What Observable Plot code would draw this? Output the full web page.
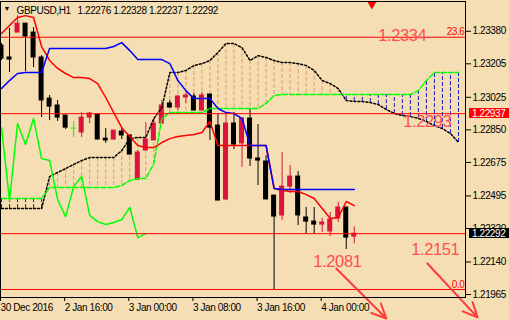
<!DOCTYPE html>
<html><head><meta charset="utf-8">
<script src="https://cdn.jsdelivr.net/npm/d3@7"></script>
<script src="https://cdn.jsdelivr.net/npm/@observablehq/plot@0.6"></script>
<style>
html,body{margin:0;padding:0;background:#f5deb3;overflow:hidden;}
#chart svg{display:block;}
</style></head><body><div id="chart"></div>
<script>
// ---- data ----
const symbol = "GBPUSD";
const timeframe = "H1";
const timeTickBars = [0, 8, 16, 24, 32, 40];
const timeLabels = ["30 Dec 2016", "2 Jan 16:00", "3 Jan 00:00", "3 Jan 08:00", "3 Jan 16:00", "4 Jan 00:00"];
const priceTicks = [1.23380, 1.23205, 1.23025, 1.22850, 1.22675, 1.22495, 1.22320, 1.22140, 1.21965];

const open = [1.23303, 1.23239, 1.23373, 1.23421, 1.23373, 1.23239, 1.23018, 1.22981, 1.22927, 1.22857,
  1.22836, 1.22916, 1.22932, 1.22803, 1.22798, 1.22841, 1.22820, 1.22583, 1.22739, 1.22793,
  1.22884, 1.22992, 1.22970, 1.23024, 1.23029, 1.22954, 1.23040, 1.22873, 1.22476, 1.22884,
  1.22777, 1.22911, 1.22696, 1.22680, 1.22497, 1.22390, 1.22545, 1.22599, 1.22379, 1.22357,
  1.22341, 1.22304, 1.22374, 1.22433, 1.22276];
const high = [1.23314, 1.23395, 1.23464, 1.23421, 1.23400, 1.23249, 1.23035, 1.23008, 1.22927, 1.22895,
  1.22943, 1.22943, 1.22932, 1.22857, 1.22846, 1.22857, 1.22820, 1.22739, 1.22889, 1.22911,
  1.23008, 1.23008, 1.23035, 1.23051, 1.23045, 1.23051, 1.23040, 1.22938, 1.22943, 1.22943,
  1.22916, 1.22965, 1.22879, 1.22712, 1.22497, 1.22728, 1.22658, 1.22626, 1.22433, 1.22433,
  1.22374, 1.22406, 1.22460, 1.22433, 1.22328];
const low = [1.23223, 1.23158, 1.23373, 1.23163, 1.23185, 1.22916, 1.22900, 1.22895, 1.22852, 1.22809,
  1.22809, 1.22884, 1.22798, 1.22777, 1.22798, 1.22798, 1.22717, 1.22578, 1.22739, 1.22793,
  1.22884, 1.22965, 1.22954, 1.22992, 1.22954, 1.22954, 1.22793, 1.22470, 1.22470, 1.22744,
  1.22648, 1.22653, 1.22551, 1.22476, 1.21992, 1.22363, 1.22508, 1.22336, 1.22293, 1.22293,
  1.22298, 1.22277, 1.22352, 1.22207, 1.22237];
const close = [1.23233, 1.23228, 1.23421, 1.23352, 1.23239, 1.23008, 1.22975, 1.22916, 1.22862, 1.22857,
  1.22916, 1.22938, 1.22798, 1.22793, 1.22846, 1.22820, 1.22717, 1.22728, 1.22798, 1.22884,
  1.22981, 1.22970, 1.23029, 1.23035, 1.22954, 1.23035, 1.22862, 1.22470, 1.22884, 1.22771,
  1.22911, 1.22696, 1.22685, 1.22476, 1.22384, 1.22545, 1.22599, 1.22390, 1.22357, 1.22341,
  1.22352, 1.22368, 1.22433, 1.22271, 1.22292];

const tenkan = [1.23368, 1.23411, 1.23454, 1.23464, 1.23454, 1.23298, 1.23223, 1.23180, 1.23153, 1.23131,
  1.23131, 1.23126, 1.23099, 1.23024, 1.22943, 1.22862, 1.22814, 1.22766, 1.22755, 1.22755,
  1.22782, 1.22803, 1.22814, 1.22820, 1.22825, 1.22836, 1.22895, 1.22766, 1.22766, 1.22766,
  1.22766, 1.22766, 1.22766, 1.22766, 1.22535, 1.22524, 1.22519, 1.22519, 1.22502, 1.22481,
  1.22427, 1.22374, 1.22379, 1.22465, 1.22443];
const kijun = [1.23072, 1.23115, 1.23153, 1.23158, 1.23158, 1.23158, 1.23287, 1.23287, 1.23287, 1.23287,
  1.23287, 1.23287, 1.23287, 1.23287, 1.23298, 1.23319, 1.23276, 1.23228, 1.23228, 1.23228,
  1.23228, 1.23206, 1.23115, 1.23061, 1.23018, 1.23018, 1.23018, 1.22965, 1.22943, 1.22938,
  1.22911, 1.22766, 1.22766, 1.22766, 1.22535, 1.22529, 1.22529, 1.22529, 1.22529, 1.22529,
  1.22529, 1.22529, 1.22529, 1.22529, 1.22529];
const spanA = [1.22427, 1.22427, 1.22427, 1.22427, 1.22427, 1.22427, 1.22599, 1.22621, 1.22642, 1.22664,
  1.22685, 1.22701, 1.22701, 1.22701, 1.22701, 1.22739, 1.22803, 1.22809, 1.22809, 1.22911,
  1.22970, 1.23158, 1.23158, 1.23169, 1.23196, 1.23206, 1.23223, 1.23266, 1.23314, 1.23314,
  1.23292, 1.23223, 1.23249, 1.23239, 1.23223, 1.23212, 1.23212, 1.23206, 1.23196, 1.23169,
  1.23115, 1.23099, 1.23072, 1.23008, 1.23003, 1.23003, 1.22997, 1.22986, 1.22959, 1.22938,
  1.22927, 1.22922, 1.22911, 1.22895, 1.22873, 1.22857, 1.22830, 1.22782];
const spanB = [1.22481, 1.22481, 1.22481, 1.22481, 1.22481, 1.22481, 1.22540, 1.22540, 1.22540, 1.22540,
  1.22540, 1.22540, 1.22540, 1.22540, 1.22540, 1.22551, 1.22578, 1.22588, 1.22588, 1.22669,
  1.22911, 1.22943, 1.22943, 1.22943, 1.22943, 1.22943, 1.22965, 1.22965, 1.22965, 1.22965,
  1.22965, 1.22965, 1.22965, 1.22992, 1.23035, 1.23040, 1.23040, 1.23040, 1.23040, 1.23040,
  1.23040, 1.23040, 1.23040, 1.23040, 1.23040, 1.23040, 1.23040, 1.23040, 1.23040, 1.23040,
  1.23040, 1.23040, 1.23061, 1.23115, 1.23158, 1.23158, 1.23158, 1.23158];
const chikouShift = 26;

const fiboLevels = [1.23348, 1.21992];
const fiboLabels = ["23.6", "0.0"];
const levelLine = 1.22937;
const textBars = [47.0, 50.1, 51.1, 38.9];
const textPrices = [1.23388, 1.22927, 1.22243, 1.22175];
const textLabels = ["1.2334", "1.2293", "1.2151", "1.2081"];
const arrowFromBar = [41.75, 53.125];
const arrowFromPrice = [1.22105, 1.22132];
const arrowToBar = [48.0, 59.375];
const arrowToPrice = [1.21836, 1.21842];
const shiftMarkerBar = 46.2;

// ---- derived tables ----
const candles = open.map((o, i) => ({i, o, h: high[i], l: low[i], c: close[i]}));
const last = candles[candles.length - 1];
const candleColor = d => d.c > d.o ? "#dc143c" : d.c < d.o ? "#000000" : "#00ff00";
const cloud = spanA.map((a, i) => ({i, a, b: spanB[i]}));
const chikou = close.slice(chikouShift).map((c, j) => ({i: j, c}));
const tk = tenkan.map((v, i) => ({i, v}));
const kj = kijun.map((v, i) => ({i, v}));
const texts = textLabels.map((t, k) => ({t, x: textBars[k], y: textPrices[k]}));
const arrows = arrowFromBar.map((b, k) => ({x1: b, y1: arrowFromPrice[k], x2: arrowToBar[k], y2: arrowToPrice[k]}));
const fibo = fiboLevels.map((p, k) => ({p, t: fiboLabels[k]}));
const f5 = v => v.toFixed(5);
const header = `${f5(last.o)} ${f5(last.h)} ${f5(last.l)} ${f5(last.c)}`;

const chart = Plot.plot({
  width: 509,
  height: 320,
  marginLeft: 0,
  marginRight: 44,
  marginTop: 1,
  marginBottom: 23,
  style: "background:#f5deb3;font-family:'Liberation Sans',Arial,sans-serif;font-size:10px;letter-spacing:-0.4px;overflow:visible;",
  color: {type: "identity"},
  x: {domain: [-0.125, 57.875], axis: null},
  y: {domain: [1.21949, 1.23540], axis: null},
  marks: [
    // kumo hatch
    Plot.ruleX(cloud, {x: "i", y1: "a", y2: "b", stroke: d => d.a >= d.b ? "#e89a5e" : "#1020c8", strokeDasharray: "4,2", clip: true}),
    // candles
    Plot.ruleX(candles, {x: "i", y1: "l", y2: "h", stroke: candleColor, clip: true}),
    Plot.rect(candles, {x1: d => d.i - 0.3125, x2: d => d.i + 0.3125, y1: "o", y2: "c", fill: candleColor, insetTop: -0.5, insetBottom: -0.5, clip: true}),
    // spans
    Plot.line(cloud, {x: "i", y: "a", stroke: "#000000", strokeDasharray: "2,2", clip: true}),
    Plot.line(cloud, {x: "i", y: "b", stroke: "#00ff00", strokeDasharray: "5,2", clip: true}),
    // chikou, tenkan, kijun
    Plot.line(chikou, {x: "i", y: "c", stroke: "#00ff00", clip: true}),
    Plot.line(tk, {x: "i", y: "v", stroke: "#ff0000", clip: true}),
    Plot.line(kj, {x: "i", y: "v", stroke: "#0000ff", clip: true}),
    // horizontal objects
    Plot.ruleY(fibo, {y: "p", stroke: "#ff0000"}),
    Plot.ruleY([levelLine, last.c], {stroke: "#ff0000"}),
    Plot.text(fibo, {y: "p", text: "t", frameAnchor: "right", textAnchor: "end", lineAnchor: "bottom", dx: -1, dy: -2, fill: "#ff0000", fontSize: 10}),
    Plot.text(texts, {x: "x", y: "y", text: "t", textAnchor: "start", lineAnchor: "top", fill: "#ff4f4f", fontSize: 16.5}),
    Plot.arrow(arrows, {x1: "x1", y1: "y1", x2: "x2", y2: "y2", stroke: "#ff3a3a", strokeWidth: 2, headLength: 12, headAngle: 50}),
    Plot.dot([shiftMarkerBar], {x: d => d, frameAnchor: "top", symbol: "triangle", rotate: 180, r: 3.2, fill: "#ff0000", stroke: "none", dy: 3}),
    // header
    Plot.text(["▼"], {frameAnchor: "top-left", dx: 3, dy: 5, lineAnchor: "top", fontSize: 7, fill: "#000"}),
    Plot.text([`${symbol},${timeframe}`], {frameAnchor: "top-left", dx: 16, dy: 5, lineAnchor: "top", fill: "#000"}),
    Plot.text([header], {frameAnchor: "top-left", dx: 77, dy: 5, lineAnchor: "top", fill: "#000"}),
    Plot.frame({stroke: "#000000"}),
    Plot.axisY(priceTicks, {anchor: "right", tickSize: 5, tickPadding: 2, tickFormat: f5, stroke: "#000", fill: "#000"}),
    Plot.axisX(timeTickBars, {anchor: "bottom", tickSize: 4, tickPadding: 2, tickFormat: (d, k) => timeLabels[timeTickBars.indexOf(d)], textAnchor: "start", dx: -1, stroke: "#000", fill: "#000"})
  ]
});

// price boxes on the axis
const yS = chart.scale("y");
const boxes = [{p: levelLine, bg: "#ff0000"}, {p: last.c, bg: "#000000"}];
const g = d3.select(chart).append("g").attr("text-anchor", "start");
for (const b of boxes) {
  const y = Math.round(yS.apply(b.p));
  g.append("rect").attr("x", 469).attr("y", y - 5).attr("width", 40).attr("height", 10).attr("fill", b.bg);
  g.append("text").attr("x", 472).attr("y", y).attr("dy", "0.36em").attr("text-anchor", "start").attr("fill", "#fff").text(f5(b.p));
}
document.getElementById("chart").appendChild(chart);
</script>
</body></html>
